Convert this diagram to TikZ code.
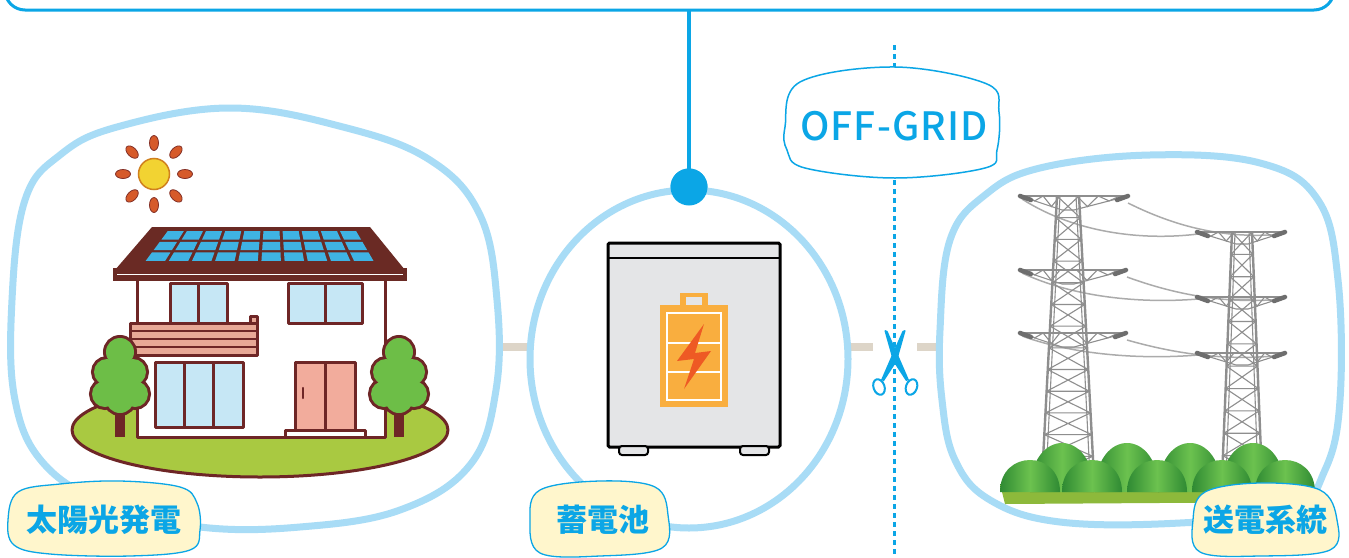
\documentclass[tikz,border=0pt]{standalone}
\usepackage{fontspec}
\newfontfamily\cjk{Noto Sans CJK JP}
\newfontfamily\cjkmed{Noto Sans CJK JP Medium}
\usetikzlibrary{calc}

\definecolor{skyline}{HTML}{0BA6E6}
\definecolor{blobblue}{HTML}{A8DCF6}
\definecolor{cream}{HTML}{FFF6CC}
\definecolor{barbeige}{HTML}{DDD5C8}
\definecolor{maroon}{HTML}{6E2626}
\definecolor{roofbrown}{HTML}{6A2A24}
\definecolor{panelblue}{HTML}{3FB3E3}
\definecolor{glass}{HTML}{C6E7F5}
\definecolor{balcony}{HTML}{E8A896}
\definecolor{doorpink}{HTML}{F2AC9C}
\definecolor{lawn}{HTML}{A9C941}
\definecolor{leaf}{HTML}{6DBE47}
\definecolor{sunyellow}{HTML}{F2D332}
\definecolor{sunrim}{HTML}{D0801E}
\definecolor{rayorange}{HTML}{D65A2A}
\definecolor{boxgray}{HTML}{E4E5E7}
\definecolor{battorange}{HTML}{F9AE3F}
\definecolor{boltred}{HTML}{EE5A24}
\definecolor{steel}{HTML}{8E8E8E}
\definecolor{insulgray}{HTML}{6E6E6E}
\definecolor{wire}{HTML}{ABABAB}
\definecolor{bushlight}{HTML}{6CC24F}
\definecolor{bushdark}{HTML}{2F8A33}
\definecolor{field}{HTML}{8DB93B}
\definecolor{fieldlight}{HTML}{B2D04F}

% lattice body of a pylon: centre x, top y, bottom y, half widths top/bottom, panels
\newcommand\latticetower[6]{%
  \foreach \k in {1,...,#6} {%
    \pgfmathsetmacro\ya{#2+(#3-#2)*(\k-1)/#6}%
    \pgfmathsetmacro\yb{#2+(#3-#2)*\k/#6}%
    \pgfmathsetmacro\wa{#4+(#5-#4)*(\k-1)/#6}%
    \pgfmathsetmacro\wb{#4+(#5-#4)*\k/#6}%
    \draw[steelthin] ({#1-\wa},{\ya}) -- ({#1+\wb},{\yb})
                     ({#1+\wa},{\ya}) -- ({#1-\wb},{\yb})
                     ({#1-\wb},{\yb}) -- ({#1+\wb},{\yb});
  }
  \draw[steelleg] ({#1-#4},#2) -- ({#1-#5},#3) ({#1+#4},#2) -- ({#1+#5},#3);
  \draw[steelthin] ({#1-#4+3},#2) -- ({#1-#5+4},#3) ({#1+#4-3},#2) -- ({#1+#5-4},#3);
  \draw[steelthin] ({#1-#4},#2) -- ({#1+#4},#2);
}
% cross arm: centre x, y, left reach, right reach, depth
\newcommand\crossarm[5]{%
  \draw[steelthin] ({#1-#3},#2) -- ({#1+#4},#2);
  \draw[steelthin] ({#1-#3},#2) -- ({#1-6},{#2+#5}) -- ({#1+6},{#2+#5}) -- ({#1+#4},#2);
  \draw[steelthin] ({#1-#3+(#3-6)*0.15},#2) -- ({#1-#3+(#3-6)*0.35},{#2+#5*0.35})
     -- ({#1-#3+(#3-6)*0.55},#2) -- ({#1-#3+(#3-6)*0.75},{#2+#5*0.75}) -- ({#1-#3+(#3-6)*0.95},#2);
  \draw[steelthin] ({#1+#4-(#4-6)*0.15},#2) -- ({#1+#4-(#4-6)*0.35},{#2+#5*0.35})
     -- ({#1+#4-(#4-6)*0.55},#2) -- ({#1+#4-(#4-6)*0.75},{#2+#5*0.75}) -- ({#1+#4-(#4-6)*0.95},#2);
  \draw[insul] ({#1-#3},{#2}) -- ({#1-#3+11},{#2+4});
  \draw[insul] ({#1+#4},{#2}) -- ({#1+#4-11},{#2+4});
}
% garden tree: centre x, top of crown
\newcommand\shrub[2]{%
  \fill[maroon] ({#1-5},{#2+70}) rectangle ({#1+5},{#2+100});
  \foreach \dx/\dy/\r in {0/15/14, -13/35/13, 13/35/13, -15/57/13, 15/57/13, 0/62/14, 0/38/16}
    \draw[maroon, line width=6pt] ({#1+\dx},{#2+\dy}) circle[radius=\r];
  \foreach \dx/\dy/\r in {0/15/14, -13/35/13, 13/35/13, -15/57/13, 15/57/13, 0/62/14, 0/38/16}
    \fill[leaf] ({#1+\dx},{#2+\dy}) circle[radius=\r];
}
% rounded bush under the pylons: centre x, top y, half width
\newcommand\bushhill[3]{%
  \shade[left color=bushdark, right color=bushdark, middle color=bushlight]
    ({#1-#3},492) .. controls ({#1-#3},{(4*#2-492)/3}) and ({#1+#3},{(4*#2-492)/3}) .. ({#1+#3},492) -- cycle;
}

\begin{document}
\begin{tikzpicture}[x=1pt, y=-1pt,
  blob/.style={draw=blobblue, line width=7pt},
  tag/.style={draw=skyline, fill=cream, line width=1.3pt},
  tagtext/.style={text=skyline, font=\cjk\bfseries\fontsize{31}{31}\selectfont, inner sep=0pt},
  bar/.style={draw=barbeige, line width=8pt},
  outline/.style={draw=maroon, line width=3pt, line join=round},
  steelthin/.style={draw=steel, line width=1.1pt},
  steelleg/.style={draw=steel, line width=2.4pt},
  insul/.style={draw=insulgray, line width=4.5pt, line cap=round},
  wireline/.style={draw=wire, line width=1.5pt},
  panel/.style={fill=panelblue}]

\useasboundingbox (0,0) rectangle (1349,557);
\clip (0,0) rectangle (1349,557);
\fill[white] (0,0) rectangle (1349,557);

% ---------- frame above, feeder line and hub dot ----------
\draw[skyline, line width=3pt, rounded corners=20pt] (5,-40) rectangle (1334,10);
\coordinate (hub) at (689,10);
\node[circle, fill=skyline, minimum size=37pt, inner sep=0pt] (dot) at (689,187) {};
\draw[skyline, line width=4pt] (hub) -- (dot.center);

% ---------- cut line ----------
\coordinate (cutTop) at (894,45);
\coordinate (cutBot) at (894,560);
\draw[skyline, line width=3pt, dash pattern=on 5pt off 4pt] (cutTop) -- (cutBot);

% ---------- links between the groups ----------
\coordinate (linkA1) at (496,347); \coordinate (linkA2) at (533,347);
\coordinate (linkB1) at (846,347); \coordinate (linkB2) at (873,347);
\coordinate (linkC1) at (917,347); \coordinate (linkC2) at (940,347);
\draw[bar] (linkA1) -- (linkA2);
\draw[bar] (linkB1) -- (linkB2);
\draw[bar] (linkC1) -- (linkC2);

% ---------- outlines of the three groups ----------
\draw[blob, fill=white] plot[smooth cycle, tension=0.65] coordinates {
  (12,300) (25,200) (60,155) (117,127) (230,108) (343,127) (430,160) (480,215)
  (497,300) (496,390) (470,465) (400,510) (300,527) (200,527) (110,505) (45,465) (15,400)};
\draw[blob, fill=white] (689,359) ellipse [x radius=159, y radius=169];
\draw[blob, fill=white] plot[smooth cycle, tension=0.65] coordinates {
  (940,330) (950,240) (985,195) (1040,168) (1150,155) (1260,163) (1318,200) (1338,280)
  (1340,400) (1325,470) (1290,510) (1180,523) (1060,522) (990,500) (955,460) (942,400)};
\node[circle, fill=skyline, minimum size=37pt, inner sep=0pt] at (dot) {};

% ---------- house with solar roof ----------
\draw[outline, fill=lawn] (260,430) ellipse [x radius=188, y radius=47];
% walls
\draw[outline, fill=white] (137,279) rectangle (385,437);
% upper windows
\draw[outline, fill=glass] (170,283) rectangle (227,323);
\draw[outline] (198.5,283) -- (198.5,323);
\draw[outline, fill=glass] (288,283) rectangle (362,323);
\draw[outline] (325,283) -- (325,323);
% balcony
\draw[outline, fill=balcony] (130,323) rectangle (257,355);
\draw[maroon, line width=2pt] (130,331) -- (257,331) (130,339) -- (257,339) (130,347) -- (257,347);
\draw[outline, fill=balcony] (250,316) rectangle (257,323);
% lower window
\draw[outline, fill=glass] (155,362) rectangle (243,427);
\draw[outline] (184,362) -- (184,427) (213,362) -- (213,427);
% door and step
\draw[outline, fill=doorpink] (295,362) rectangle (355,430);
\draw[outline] (325,362) -- (325,430);
\draw[maroon, line width=2.5pt, line cap=round] (303,388) -- (303,398);
\draw[outline, fill=white] (285,430) rectangle (365,437);
% roof
\fill[roofbrown] (152,227) -- (370,227) -- (405,270) -- (115,270) -- cycle;
\fill[roofbrown] (113,268) rectangle (407,281);
\draw[white, line width=1.3pt] (117,274.5) -- (403,274.5);
% solar panels, 3 rows by 10 columns
\foreach \r in {0,1,2} {
  \foreach \c in {0,...,9} {
    \pgfmathsetmacro\ta{\r/3+0.035}
    \pgfmathsetmacro\tb{(\r+1)/3-0.035}
    \pgfmathsetmacro\sa{\c/10+0.008}
    \pgfmathsetmacro\sb{(\c+1)/10-0.008}
    \fill[panel] ({167-24*\ta+(190+43*\ta)*\sa},{230+32*\ta})
      -- ({167-24*\ta+(190+43*\ta)*\sb},{230+32*\ta})
      -- ({167-24*\tb+(190+43*\tb)*\sb},{230+32*\tb})
      -- ({167-24*\tb+(190+43*\tb)*\sa},{230+32*\tb}) -- cycle;
  }
}
% trees
\shrub{120}{337}
\shrub{399}{337}
% sun
\coordinate (sun) at (154,174);
\foreach \a in {0,45,...,315}
  \draw[fill=rayorange, draw=maroon!80!rayorange, line width=0.8pt, rotate around={\a:(sun)}]
    (185,174) ellipse [x radius=7.5, y radius=4.5];
\draw[fill=sunyellow, draw=sunrim, line width=1.5pt] (sun) circle[radius=15.5];

% ---------- storage battery ----------
\draw[black, line width=3pt, fill=boxgray, rounded corners=1.5pt] (608,243) rectangle (780,447);
\draw[black, line width=2.5pt] (608,258) -- (780,258);
\draw[black, line width=2pt, fill=boxgray, rounded corners=3pt] (619,446) rectangle (648,455);
\draw[black, line width=2pt, fill=boxgray, rounded corners=3pt] (740,446) rectangle (769,455);
\fill[battorange] (680,293) rectangle (708,306);
\fill[boxgray] (686,297) rectangle (702,305);
\fill[battorange] (660,305) rectangle (728,407);
\draw[white, line width=2.5pt] (667,313) rectangle (721,400);
\draw[white, line width=2.5pt] (667,343) -- (721,343) (667,372) -- (721,372);
\fill[boltred] (704,324) -- (677,361) -- (694,359) -- (684,389) -- (711,351) -- (695,353) -- cycle;

% ---------- pylons ----------
\draw[wireline] (1022,199) .. controls (1080,236) and (1150,240) .. (1198,234);
\draw[wireline] (1128,203) .. controls (1190,234) and (1240,238) .. (1284,234);
\draw[wireline] (1022,273) .. controls (1080,300) and (1150,303) .. (1198,299);
\draw[wireline] (1127,277) .. controls (1190,300) and (1240,303) .. (1284,299);
\draw[wireline] (1022,336) .. controls (1080,357) and (1150,359) .. (1198,355);
\draw[wireline] (1127,340) .. controls (1190,358) and (1240,360) .. (1284,355);
\latticetower{1068}{196}{478}{11}{26}{13}
\crossarm{1068}{196}{48}{60}{14}
\crossarm{1068}{270}{48}{58}{14}
\crossarm{1068}{333}{48}{58}{14}
\latticetower{1242}{232}{478}{10}{20}{11}
\crossarm{1242}{232}{45}{43}{12}
\crossarm{1242}{297}{45}{43}{12}
\crossarm{1242}{353}{45}{43}{12}
% field and bushes
\fill[field] (1000,484) -- (1312,482) -- (1312,502) -- (1005,504) -- cycle;
\fill[fieldlight] (1000,484) -- (1312,482) -- (1312,488) -- (1001,490) -- cycle;
\bushhill{1062}{443}{32}
\bushhill{1127}{443}{32}
\bushhill{1190}{443}{32}
\bushhill{1253}{443}{32}
\bushhill{1030}{460}{30}
\bushhill{1092}{460}{30}
\bushhill{1157}{460}{30}
\bushhill{1222}{460}{30}
\bushhill{1285}{460}{30}

% ---------- OFF-GRID tag and scissors ----------
\draw[skyline, line width=1.5pt, fill=white] plot[smooth cycle, tension=0.6] coordinates {
  (785,127) (800,82) (895,67) (987,84) (999,112) (997,150) (985,168) (895,178) (805,168) (787,150)};
\node[text=skyline, font=\cjkmed\fontsize{39}{39}\selectfont\addfontfeature{LetterSpace=3}, inner sep=0pt] (offgrid) at (894,126) {OFF-GRID};

\fill[skyline] (885,330) -- (887.5,331) -- (899,357) -- (909,380) -- (906,381) -- (893,361) -- (884.5,331) -- cycle;
\fill[skyline] (905,330) -- (902.5,331) -- (891,357) -- (881,380) -- (884,381) -- (897,361) -- (905.5,331) -- cycle;
\draw[skyline, line width=2pt, fill=white, rotate around={20:(879,387)}] (879,387) ellipse [x radius=5.5, y radius=8];
\draw[skyline, line width=2pt, fill=white, rotate around={-20:(911.5,387)}] (911.5,387) ellipse [x radius=5.5, y radius=8];

% ---------- name tags ----------
\draw[tag] plot[smooth cycle, tension=0.6] coordinates {
  (18,492) (60,484) (120,481) (180,487) (197,503) (200,530) (190,550) (130,556) (50,554) (14,545) (8,520)};
\node[tagtext] (tagSolar) at (104,520) {太陽光発電};
\draw[tag] plot[smooth cycle, tension=0.6] coordinates {
  (540,490) (600,481) (655,487) (668,515) (662,548) (600,556) (540,553) (530,520)};
\node[tagtext] (tagBattery) at (603,520) {蓄電池};
\draw[tag] plot[smooth cycle, tension=0.6] coordinates {
  (1205,492) (1260,483) (1320,490) (1337,520) (1330,550) (1260,556) (1200,552) (1193,520)};
\node[tagtext] (tagGrid) at (1265,520) {送電系統};
\end{tikzpicture}
\end{document}
